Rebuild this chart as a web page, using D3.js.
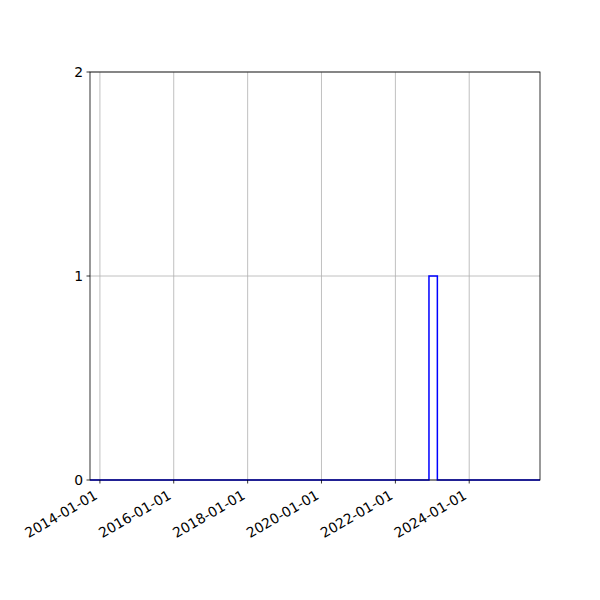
<!DOCTYPE html>
<html>
<head>
<meta charset="utf-8">
<script src="https://cdn.jsdelivr.net/npm/d3@7"></script>
<style>
  body { margin: 0; background: #fff; }
  text { font-family: "DejaVu Sans", sans-serif; }
</style>
</head>
<body>
<div id="chart"></div>
<script>
// step series: dates where the count changes, and the count held from each date
var stepDates = ["2013-09-25", "2022-11-29", "2023-02-20", "2025-12-01"];
var stepCounts = [0, 1, 0, 0];

// axis ticks
var xTickLabels = ["2014-01-01", "2016-01-01", "2018-01-01", "2020-01-01", "2022-01-01", "2024-01-01"];
var yTicks = [0, 1, 2];

var width = 600,
    height = 600,
    margin = { top: 72, right: 60, bottom: 120, left: 90 };

var parse = d3.timeParse("%Y-%m-%d");

var data = stepDates.map(function (d, i) {
    return { date: parse(d), value: stepCounts[i] };
});

var svg = d3.select("#chart").append("svg")
    .attr("width", width)
    .attr("height", height);

var x = d3.scaleTime()
    .domain(d3.extent(data, d => d.date))
    .range([margin.left, width - margin.right]);

var y = d3.scaleLinear()
    .domain([0, 2])
    .range([height - margin.bottom, margin.top]);

// grid lines
svg.append("g")
    .selectAll("line")
    .data(xTickLabels)
    .enter()
    .append("line")
    .attr("x1", d => x(parse(d)))
    .attr("x2", d => x(parse(d)))
    .attr("y1", y(0))
    .attr("y2", y(2))
    .attr("stroke", "#b0b0b0")
    .attr("stroke-width", 0.8);

svg.append("g")
    .selectAll("line")
    .data(yTicks)
    .enter()
    .append("line")
    .attr("x1", x.range()[0])
    .attr("x2", x.range()[1])
    .attr("y1", d => y(d))
    .attr("y2", d => y(d))
    .attr("stroke", "#b0b0b0")
    .attr("stroke-width", 0.8);

// the step line
var line = d3.line()
    .x(d => x(d.date))
    .y(d => y(d.value))
    .curve(d3.curveStepAfter);

svg.append("path")
    .datum(data)
    .attr("d", line)
    .attr("fill", "none")
    .attr("stroke", "#0000ff")
    .attr("stroke-width", 1.5);

// frame
svg.append("rect")
    .attr("x", x.range()[0])
    .attr("y", y(2))
    .attr("width", x.range()[1] - x.range()[0])
    .attr("height", y(0) - y(2))
    .attr("fill", "none")
    .attr("stroke", "#000")
    .attr("stroke-width", 0.8);

// x axis ticks and rotated labels
var xAxis = svg.append("g");
xTickLabels.forEach(function (d) {
    var px = x(parse(d));
    xAxis.append("line")
        .attr("x1", px).attr("x2", px)
        .attr("y1", y(0)).attr("y2", y(0) + 3.5)
        .attr("stroke", "#000")
        .attr("stroke-width", 0.8);
    xAxis.append("text")
        .attr("transform", "translate(" + (px - 1.5) + "," + (y(0) + 18) + ") rotate(-30)")
        .attr("text-anchor", "end")
        .style("font-size", "13.9px")
        .text(d);
});

// y axis ticks and labels
var yAxis = svg.append("g");
yTicks.forEach(function (d) {
    yAxis.append("line")
        .attr("x1", x.range()[0] - 3.5).attr("x2", x.range()[0])
        .attr("y1", y(d)).attr("y2", y(d))
        .attr("stroke", "#000")
        .attr("stroke-width", 0.8);
    yAxis.append("text")
        .attr("x", x.range()[0] - 7)
        .attr("y", y(d))
        .attr("dy", "0.35em")
        .attr("text-anchor", "end")
        .style("font-size", "13.9px")
        .text(d);
});
</script>
</body>
</html>
